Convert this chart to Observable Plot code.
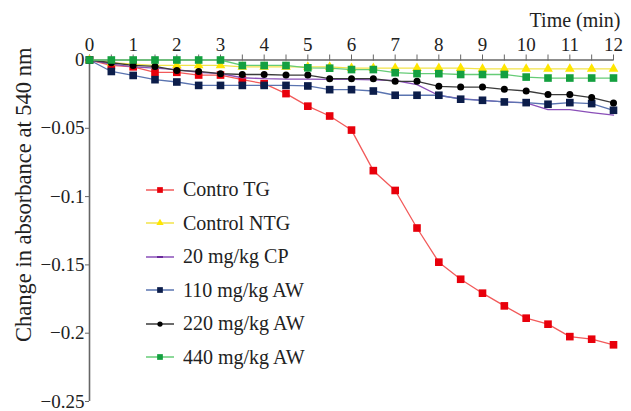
<!DOCTYPE html>
<html>
<head>
<meta charset="utf-8">
<script src="https://cdn.jsdelivr.net/npm/d3@7"></script>
<script src="https://cdn.jsdelivr.net/npm/@observablehq/plot@0.6"></script>
<style>
  html, body { margin: 0; padding: 0; background: #fff; }
  #wrap { position: relative; width: 631px; height: 411px; font-family: "Liberation Serif", "Times New Roman", serif; }
  #legend { position: absolute; left: 146px; top: 173px; }
  .row { display: flex; align-items: center; height: 33.5px; font-size: 20px; color: #222; }
  .row svg { margin-right: 9px; }
</style>
</head>
<body>
<div id="wrap"><div id="legend"></div></div>
<script>
const time = [0,0.5,1,1.5,2,2.5,3,3.5,4,4.5,5,5.5,6,6.5,7,7.5,8,8.5,9,9.5,10,10.5,11,11.5,12];
const controTG  = [0,-0.004,-0.005,-0.009,-0.009,-0.011,-0.011,-0.0144,-0.0173,-0.0246,-0.0338,-0.041,-0.0513,-0.081,-0.0955,-0.123,-0.148,-0.1605,-0.1707,-0.180,-0.189,-0.1934,-0.2025,-0.2044,-0.2085];
const controlNTG = [0,-0.002,-0.003,-0.004,-0.004,-0.004,-0.004,-0.005,-0.005,-0.005,-0.005,-0.005,-0.006,-0.006,-0.006,-0.006,-0.006,-0.006,-0.0065,-0.0065,-0.0065,-0.0065,-0.0065,-0.0065,-0.0065];
const cp20  = [0,-0.003,-0.005,-0.006,-0.007,-0.009,-0.010,-0.013,-0.0137,-0.014,-0.014,-0.0142,-0.0142,-0.0145,-0.015,-0.018,-0.026,-0.0283,-0.0295,-0.0307,-0.0314,-0.0363,-0.0363,-0.0385,-0.0404];
const aw110 = [0,-0.0084,-0.0113,-0.0144,-0.0161,-0.0186,-0.0186,-0.0186,-0.0186,-0.0186,-0.019,-0.0217,-0.0217,-0.0227,-0.0258,-0.0258,-0.0258,-0.0287,-0.0295,-0.0307,-0.0312,-0.0324,-0.0312,-0.0319,-0.0368];
const aw220 = [0,-0.002,-0.004,-0.0047,-0.0076,-0.0084,-0.010,-0.0106,-0.0106,-0.011,-0.011,-0.0137,-0.0137,-0.0137,-0.0156,-0.0156,-0.0193,-0.0198,-0.0198,-0.0215,-0.0227,-0.0253,-0.0253,-0.0275,-0.0314];
const aw440 = [0,0,0,0,0,0,0,-0.004,-0.004,-0.004,-0.0057,-0.006,-0.007,-0.007,-0.0093,-0.010,-0.010,-0.0106,-0.0106,-0.0106,-0.0125,-0.0132,-0.0132,-0.0132,-0.0132];

const seriesNames = ["Contro TG","Control NTG","20 mg/kg CP","110 mg/kg AW","220 mg/kg AW","440 mg/kg AW"];
const xTicks = [0,0.5,1,1.5,2,2.5,3,3.5,4,4.5,5,5.5,6,6.5,7,7.5,8,8.5,9,9.5,10,10.5,11,11.5,12];
const yTicks = [0,-0.05,-0.1,-0.15,-0.2,-0.25];

const styles = [
  {values: controTG,   line: "#f25a5a", fill: "#e8000b", symbol: "square",   r: 4.3},
  {values: controlNTG, line: "#f2e34a", fill: "#ffe600", symbol: "triangle", r: 3.6},
  {values: cp20,       line: "#8a4fb8", fill: "#6a2a9a", symbol: "dash",     r: 0},
  {values: aw110,      line: "#5a74b0", fill: "#0c1d4a", symbol: "square",   r: 4.3},
  {values: aw220,      line: "#3a3a3a", fill: "#000000", symbol: "circle",   r: 3.5},
  {values: aw440,      line: "#66cc77", fill: "#14a040", symbol: "square",   r: 4.3}
];

const marks = [
  Plot.ruleY([0], {stroke: "#666", strokeWidth: 1.6}),
  Plot.ruleX([0], {y1: -0.25, y2: 0.003, stroke: "#666", strokeWidth: 1.6}),
  Plot.axisX({anchor: "top", ticks: xTicks, tickSize: 6, tickPadding: 3, stroke: "#666",
    tickFormat: d => Number.isInteger(d) ? String(d) : "", label: null, fontSize: 19, fill: "#222"}),
  Plot.axisY({anchor: "left", ticks: yTicks, tickSize: 4, tickPadding: 1, stroke: "#666",
    tickFormat: d => d === 0 ? "0" : "\u2212" + String(-d), label: null, fontSize: 19, fill: "#222"}),
  Plot.text(["Time (min)"], {frameAnchor: "top-right", textAnchor: "end", lineAnchor: "middle", dx: 7, dy: -39, fontSize: 20, fill: "#222"}),
  Plot.text(["Change in absorbance at 540 nm"], {frameAnchor: "left", rotate: -90, textAnchor: "middle", lineAnchor: "middle", dx: -66, dy: -36, fontSize: 22.5, fill: "#222"})
];

styles.forEach((s, i) => {
  const data = time.map((t, j) => ({time: t, value: s.values[j], series: seriesNames[i]}));
  marks.push(Plot.line(data, {x: "time", y: "value", stroke: s.line, strokeWidth: 1.3}));
  if (s.symbol !== "dash") {
    marks.push(Plot.dot(data, {x: "time", y: "value", symbol: s.symbol, r: s.r, fill: s.fill, stroke: "none"}));
  }
});

const chart = Plot.plot({
  width: 631,
  height: 411,
  marginLeft: 89,
  marginRight: 18,
  marginTop: 59.5,
  marginBottom: 10,
  x: {domain: [0, 12]},
  y: {domain: [-0.25, 0]},
  style: {fontFamily: "Liberation Serif, Times New Roman, serif", fontSize: "19px", background: "#fff"},
  marks
});
document.getElementById("wrap").prepend(chart);

// legend
const legend = d3.select("#legend");
styles.forEach((s, i) => {
  const row = legend.append("div").attr("class", "row");
  const svg = row.append("svg").attr("width", 28).attr("height", 14);
  svg.append("line").attr("x1", 0).attr("x2", 28).attr("y1", 7).attr("y2", 7).attr("stroke", s.line).attr("stroke-width", 1.5);
  if (s.symbol === "dash") {
    svg.append("line").attr("x1", 11).attr("x2", 17).attr("y1", 7).attr("y2", 7).attr("stroke", s.fill).attr("stroke-width", 2);
  } else {
    const sym = {square: d3.symbolSquare, triangle: d3.symbolTriangle, circle: d3.symbolCircle}[s.symbol];
    svg.append("path").attr("transform", "translate(14,7)").attr("d", d3.symbol(sym, (s.r * 0.75) ** 2 * Math.PI)()).attr("fill", s.fill);
  }
  row.append("span").text(seriesNames[i]);
});
</script>
</body>
</html>
